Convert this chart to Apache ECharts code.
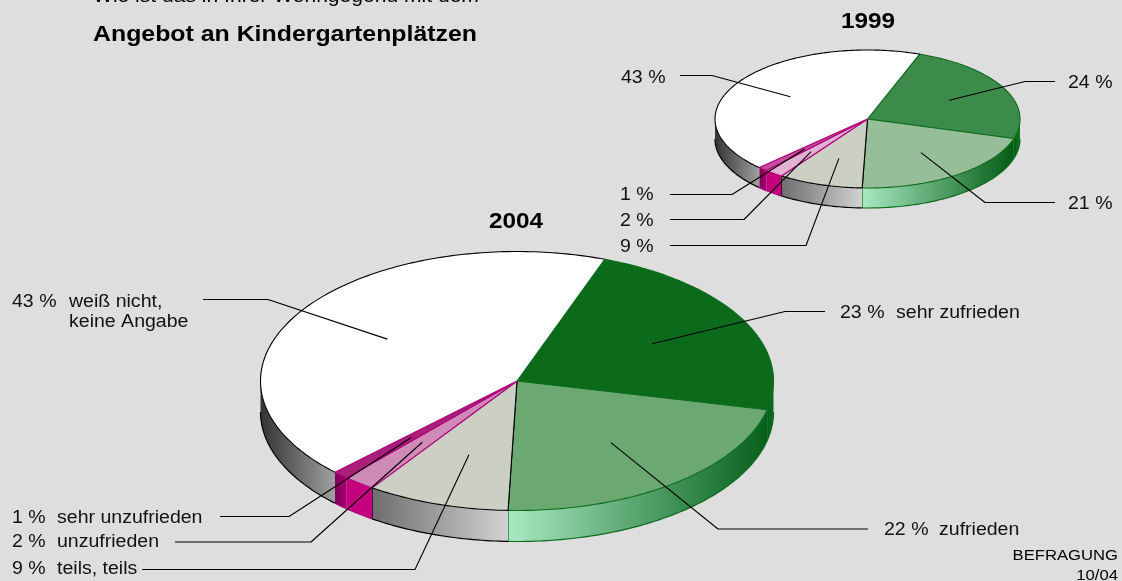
<!DOCTYPE html>
<html><head><meta charset="utf-8">
<style>html,body{margin:0;padding:0;background:#dedede}#c{width:1122px;height:581px}</style>
<script src="https://cdn.jsdelivr.net/npm/echarts@6/dist/echarts.min.js"></script>
</head><body><div id="c"></div>
<script>
// ---- data ----
const categories = ['sehr zufrieden','zufrieden','teils, teils','unzufrieden','sehr unzufrieden','weiß nicht, keine Angabe'];
const values2004 = [23,22,9,2,1,43];
const values1999 = [24,21,9,2,1,43];
const nameLines = [['sehr zufrieden'],['zufrieden'],['teils, teils'],['unzufrieden'],['sehr unzufrieden'],['weiß nicht,','keine Angabe']];

// ---- layout and styles ----
const FONT = '"Liberation Sans", Arial, sans-serif';
const START = 20;
const pie2004 = {cx:517, cy:381, rx:256.5, ry:129.5, depth:31};
const pie1999 = {cx:867.5, cy:119, rx:152.5, ry:69, depth:20};
const wallColors = [['#06601a','#0b6e1c'],['#a9e9c2','#06601a'],['#6e6e6e','#d2d2d2'],['#c4007e','#c4007e'],['#7c005a','#a8006f'],['#333333','#a0a0a0']];
const wallColors99 = [['#035c14','#0a7a1a'],['#a9e9c2','#035c14'],['#6e6e6e','#d2d2d2'],['#c4007e','#c4007e'],['#7c005a','#a8006f'],['#333333','#a0a0a0']];
const tops2004 = ['#0b6b1b','#6ca872','#ccd0c4','#d08ab8','#a8207a','#ffffff'];
const tops1999 = ['#3c8b4b','#96bf99','#ccd0c4','#e2b2d4','#c44f9e','#ffffff'];
const GREEN='#0b6b1b', MAG='#b0007a', BLK='#000000';
// colour of: radial edge at start angle, radial edge at end angle, rim arc
const edges = [[GREEN,GREEN,GREEN],[GREEN,BLK,GREEN],[BLK,MAG,BLK],[MAG,MAG,MAG],[MAG,MAG,MAG],[MAG,GREEN,BLK]];
// vertical wall edge colour at start / end of the slice's wall (null: none)
const wallEdges = [[null,null],[null,GREEN],[null,BLK],[null,null],[null,null],[null,null]];
const leaders2004 = [
 {e:[785,311.5], t:[825,311.5], px:840, nx:896, y:313},
 {e:[718,529], t:[868,529], px:884, nx:939, y:530},
 {e:[415,569.5], t:[142,569.5], px:12,  nx:57,  y:569},
 {e:[311,542], t:[175,542], px:12,  nx:57,  y:542},
 {e:[289,516.5], t:[220,516.5], px:12,  nx:57,  y:518},
 {e:[268,299.5], t:[203,299.5], px:12,  nx:69,  y:302}
];
const leaders1999 = [
 {e:[1025,81.5], t:[1055,81.5], px:1068, y:83},
 {e:[985,202.5], t:[1055,202.5], px:1068, y:204},
 {e:[806,245.5], t:[670,245.5], px:620, y:247},
 {e:[744,219.5], t:[670,219.5], px:620, y:221},
 {e:[732,194.5], t:[670,194.5], px:620, y:195},
 {e:[712,75.5],  t:[680,75.5],  px:621, y:78}
];

function pt(p, deg, frac, dz){
  const a = deg*Math.PI/180;
  return [p.cx + p.rx*frac*Math.sin(a), p.cy - p.ry*frac*Math.cos(a) + (dz||0)];
}
function span(values, i){
  const total = values.reduce((s,v)=>s+v,0);
  let c = 0; for(let k=0;k<i;k++) c+=values[k];
  return [START + c/total*360, START + (c+values[i])/total*360];
}
function arc(p, a0, a1, dz){
  const pts=[], n=Math.max(2,Math.ceil(Math.abs(a1-a0)));
  for(let k=0;k<=n;k++) pts.push(pt(p,a0+(a1-a0)*k/n,1,dz));
  return pts;
}
const line=(points,stroke,lw)=>({type:'polyline',shape:{points},style:{stroke,lineWidth:lw||1.1,fill:null,lineJoin:'round'}});
function sliceSeries(p, values, tops, walls){
  return {
    type:'custom', coordinateSystem:'none', silent:true, animation:false,
    data: values.map((v,i)=>({name:categories[i], value:[v,i]})),
    renderItem(params, api){
      const i = api.value(1), [a0,a1] = span(values,i), children=[], E=edges[i];
      const w0 = Math.max(a0,90), w1 = Math.min(a1,270);
      if(w1>w0){
        const pts = arc(p,w0,w1,0).concat(arc(p,w1,w0,p.depth));
        children.push({type:'polygon', shape:{points:pts}, style:{
          fill:{type:'linear',x:1,y:0,x2:0,y2:0,colorStops:[{offset:0,color:walls[i][1]},{offset:1,color:walls[i][0]}]}}});
        children.push(line(arc(p,w0,w1,p.depth),E[2],1.2));
        if(wallEdges[i][0]) children.push(line([pt(p,w0,1,0),pt(p,w0,1,p.depth)],wallEdges[i][0],1.2));
        if(wallEdges[i][1]) children.push(line([pt(p,w1,1,0),pt(p,w1,1,p.depth)],wallEdges[i][1],1.2));
      }
      children.push({type:'polygon', shape:{points:[[p.cx,p.cy]].concat(arc(p,a0,a1,0))}, style:{fill:tops[i]}});
      children.push(line([pt(p,a1,1,0),[p.cx,p.cy]],E[1]));
      children.push(line([[p.cx,p.cy],pt(p,a0,1,0)],E[0]));
      children.push(line(arc(p,a0,a1,0),E[2]));
      return {type:'group', children};
    }
  };
}
const LABEL_SIZE=18, LABEL_SX=1.085;
function leaderSeries(p, values, layout, withNames){
  return {
    type:'custom', coordinateSystem:'none', silent:true, animation:false,
    data: values.map((v,i)=>({name:categories[i], value:[v,i]})),
    renderItem(params, api){
      const v = api.value(0), i = api.value(1), [a0,a1] = span(values,i), L = layout[i];
      const anchor = pt(p,(a0+a1)/2,0.6,0);
      const kids = [line([anchor,L.e,L.t],'#000',1.1)];
      const txt=(x,y,text)=>({type:'text', x, y, scaleX:LABEL_SX, style:{text,fill:'#111',fontSize:LABEL_SIZE,fontFamily:FONT,align:'left',verticalAlign:'middle'}});
      kids.push(txt(L.px,L.y,v+' %'));
      if(withNames) nameLines[i].forEach((s,k)=>kids.push(txt(L.nx,L.y+k*20,s)));
      return {type:'group', children:kids};
    }
  };
}
const tx=(x,y,text,size,bold,sx,align)=>({type:'text',x,y,scaleX:sx,silent:true,style:{text,fill:'#000',fontSize:size,fontWeight:bold?'bold':'normal',fontFamily:FONT,align:align||'left',verticalAlign:'middle'}});

const chart = echarts.init(document.getElementById('c'),null,{renderer:'canvas'});
chart.setOption({
  backgroundColor:'#dedede',
  animation:false,
  graphic:[
    tx(93,-3,'Wie ist das in Ihrer Wohngegend mit dem',18,false,1.17),
    tx(93,35,'Angebot an Kindergartenplätzen',22.5,true,1.105),
    tx(489,222,'2004',22.5,true,1.08),
    tx(841,22,'1999',22.5,true,1.08),
    tx(1118,556,'BEFRAGUNG',15,false,1.11,'right'),
    tx(1118,576,'10/04',15,false,1.11,'right')
  ],
  series:[
    sliceSeries(pie1999,values1999,tops1999,wallColors99),
    sliceSeries(pie2004,values2004,tops2004,wallColors),
    leaderSeries(pie1999,values1999,leaders1999,false),
    leaderSeries(pie2004,values2004,leaders2004,true)
  ]
});
</script></body></html>
